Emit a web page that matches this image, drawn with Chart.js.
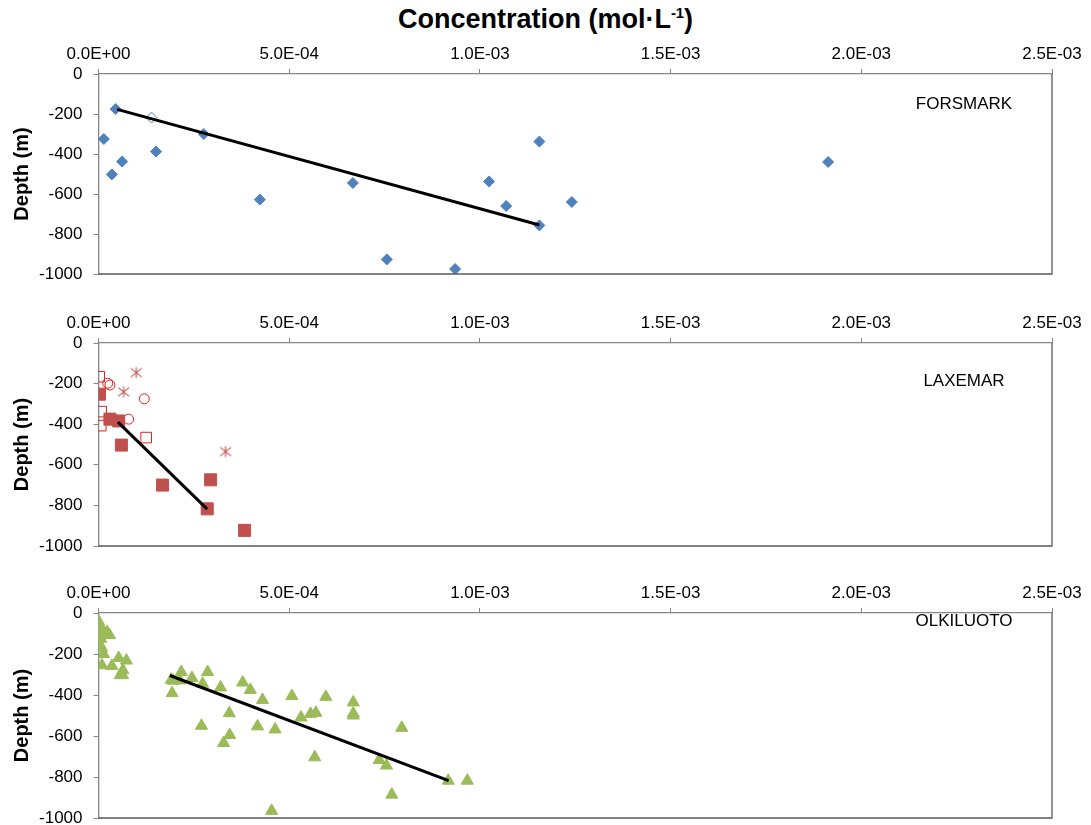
<!DOCTYPE html>
<html>
<head>
<meta charset="utf-8">
<script src="https://cdn.jsdelivr.net/npm/chart.js@4.4.1/dist/chart.umd.min.js"></script>
<style>
  html, body { margin: 0; padding: 0; background: #fff; overflow: hidden; width: 1091px; height: 825px; }
  #title { position: absolute; left: 0; top: -3px; width: 1091px; text-align: center;
           font: bold 27px 'Liberation Sans', Arial, sans-serif; color: #000; line-height: 32px; }
  #title sup { font-size: 0.55em; }
  .panel { position: absolute; left: 0; width: 1091px; }
</style>
</head>
<body>
<div id="title">Concentration (mol·L<sup>-1</sup>)</div>
<div class="panel" style="top:29px;height:267px"><canvas id="forsmark"></canvas></div>
<div class="panel" style="top:298px;height:270px"><canvas id="laxemar"></canvas></div>
<div class="panel" style="top:568px;height:272px"><canvas id="olkiluoto"></canvas></div>
<script>
// Concentration axis (mol/L) and depth axis (m)
const concTicks = [0, 5e-4, 1e-3, 1.5e-3, 2e-3, 2.5e-3];
const depthTicks = [0, -200, -400, -600, -800, -1000];

// Forsmark
const forsmarkConc  = [1.4e-5, 4.5e-5, 3.5e-5, 6.2e-5, 1.51e-4, 2.76e-4, 4.23e-4, 6.67e-4, 7.56e-4, 9.35e-4, 1.024e-3, 1.069e-3, 1.156e-3, 1.156e-3, 1.241e-3, 1.913e-3];
const forsmarkDepth = [-325, -175, -502, -438, -388, -300, -628, -545, -927, -975, -537, -660, -338, -757, -640, -440];
const forsmarkOpenConc  = [1.39e-4];
const forsmarkOpenDepth = [-218];
const forsmarkTrendConc  = [4.9e-5, 1.156e-3];
const forsmarkTrendDepth = [-177, -755];

// Laxemar
const laxemarFilledConc  = [2.6e-6, 3.0e-5, 5.3e-5, 6.0e-5, 1.68e-4, 2.94e-4, 2.85e-4, 3.83e-4];
const laxemarFilledDepth = [-252, -375, -384, -503, -700, -674, -817, -923];
const laxemarSquareConc  = [1.8e-6, 7e-6, 6e-6, 1.25e-4];
const laxemarSquareDepth = [-166, -338, -407, -466];
const laxemarCircleConc  = [2.4e-5, 3.0e-5, 1.2e-4, 7.9e-5];
const laxemarCircleDepth = [-198, -207, -275, -375];
const laxemarStarConc  = [9.9e-5, 6.6e-5, 3.33e-4];
const laxemarStarDepth = [-146, -241, -535];
const laxemarTrendConc  = [5.1e-5, 2.85e-4];
const laxemarTrendDepth = [-390, -818];

// Olkiluoto
const olkiluotoConc = [
  0.0, 2e-6, 3e-6, 1e-6, 2.2e-5, 2.9e-5, 4e-6, 6e-6, 2e-6, 8e-6, 1.3e-5, 9e-6, 3.5e-5, 5.3e-5, 7.3e-5, 6.4e-5, 5.7e-5, 6.3e-5,
  1.91e-4, 1.93e-4, 1.96e-4, 2.13e-4, 2.17e-4, 2.45e-4, 2.73e-4, 2.86e-4, 2.70e-4, 3.20e-4, 3.28e-4, 3.43e-4, 3.44e-4,
  3.78e-4, 3.98e-4, 4.17e-4, 4.30e-4, 4.54e-4, 4.63e-4, 5.07e-4, 5.31e-4, 5.56e-4, 5.70e-4, 5.67e-4, 5.96e-4,
  6.68e-4, 6.68e-4, 6.68e-4, 7.36e-4, 7.55e-4, 7.69e-4, 7.95e-4, 9.17e-4, 9.67e-4
];
const olkiluotoDepth = [
  -40, -55, -70, -85, -92, -108, -110, -125, -150, -170, -200, -255, -258, -219, -232, -279, -303, -303,
  -325, -391, -330, -329, -288, -317, -345, -288, -550, -363, -634, -489, -595,
  -339, -375, -553, -424, -965, -568, -405, -510, -492, -487, -704, -409,
  -436, -490, -500, -717, -744, -886, -560, -818, -818
];
const olkiluotoTrendConc  = [1.87e-4, 9.18e-4];
const olkiluotoTrendDepth = [-305, -818];

const FONT = "'Liberation Sans', Arial, sans-serif";
const AXIS_GREY = '#868686';

function pts(xs, ys) { return xs.map((x, i) => ({ x: x, y: ys[i] })); }

function sciLabel(v) {
  if (Math.abs(v) < 1e-12) return '0.0E+00';
  const parts = v.toExponential(1).split('e');
  const e = parseInt(parts[1], 10);
  return parts[0] + 'E' + (e < 0 ? '-' : '+') + String(Math.abs(e)).padStart(2, '0');
}

// six-armed asterisk marker
function asteriskMarker(color) {
  const s = 14, c = document.createElement('canvas');
  c.width = s; c.height = s;
  const g = c.getContext('2d');
  g.strokeStyle = color; g.lineWidth = 1.1;
  const cx = 7, cy = 7, r = 5.5;
  g.beginPath();
  g.moveTo(cx, cy - r); g.lineTo(cx, cy + r);
  g.moveTo(cx - r, cy - r * 0.8); g.lineTo(cx + r, cy + r * 0.8);
  g.moveTo(cx - r, cy + r * 0.8); g.lineTo(cx + r, cy - r * 0.8);
  g.stroke();
  return c;
}

// dark frame on the right and bottom of the plot area plus the site name
const panelDecor = {
  id: 'panelDecor',
  afterDraw(chart, args, opts) {
    const { ctx, chartArea: a } = chart;
    ctx.save();
    ctx.strokeStyle = '#595959';
    ctx.lineWidth = 1.3;
    ctx.beginPath();
    ctx.moveTo(a.right, a.top);
    ctx.lineTo(a.right, a.bottom);
    ctx.lineTo(a.left, a.bottom);
    ctx.stroke();
    ctx.fillStyle = '#000';
    ctx.font = '17px ' + FONT;
    ctx.textAlign = 'center';
    ctx.textBaseline = 'middle';
    ctx.fillText(opts.text, opts.cx, a.top + opts.dy);
    ctx.restore();
  }
};

function trendSet(xs, ys) {
  return { data: pts(xs, ys), showLine: true, borderColor: '#000', borderWidth: 3,
           pointRadius: 0, fill: false, order: 0 };
}

function makePanel(id, datasets, label, labelDy) {
  return new Chart(document.getElementById(id), {
    type: 'scatter',
    data: { datasets: datasets },
    plugins: [panelDecor],
    options: {
      responsive: true,
      maintainAspectRatio: false,
      animation: false,
      layout: { padding: { left: 0, right: 39, top: 0, bottom: 22 } },
      plugins: {
        legend: { display: false },
        tooltip: { enabled: false },
        panelDecor: { text: label, cx: 964, dy: labelDy }
      },
      scales: {
        x: {
          type: 'linear', position: 'top', min: 0, max: 2.5e-3,
          afterBuildTicks: s => { s.ticks = concTicks.map(v => ({ value: v })); },
          afterFit: s => { s.height = 45; },
          grid: { drawOnChartArea: false, drawTicks: true, tickLength: 5, color: AXIS_GREY },
          border: { color: AXIS_GREY, width: 1.3 },
          ticks: { color: '#000', font: { family: FONT, size: 17 }, padding: 4, maxRotation: 0,
                   callback: v => sciLabel(v) }
        },
        y: {
          type: 'linear', position: 'left', min: -1000, max: 0,
          afterBuildTicks: s => { s.ticks = depthTicks.map(v => ({ value: v })); },
          afterFit: s => { s.width = 98.5; },
          grid: { drawOnChartArea: false, drawTicks: true, tickLength: 5, color: AXIS_GREY },
          border: { color: AXIS_GREY, width: 1.3 },
          ticks: { color: '#000', font: { family: FONT, size: 17 }, padding: 11,
                   callback: v => String(v) },
          title: { display: true, text: 'Depth (m)', color: '#000',
                   font: { family: FONT, size: 20, weight: 'bold' }, padding: { top: 10, bottom: 0 } }
        }
      }
    }
  });
}

const BLUE = '#4F81BD', RED = '#C0504D', BRIGHT_RED = '#E0201C', GREEN = '#9BBB59';

makePanel('forsmark', [
  trendSet(forsmarkTrendConc, forsmarkTrendDepth),
  { data: pts(forsmarkConc, forsmarkDepth), pointStyle: 'rectRot', pointRadius: 5.5,
    backgroundColor: BLUE, borderColor: BLUE, borderWidth: 1, order: 1 },
  { data: pts(forsmarkOpenConc, forsmarkOpenDepth), pointStyle: 'rectRot', pointRadius: 5.5,
    backgroundColor: '#fff', borderColor: BLUE, borderWidth: 1, order: 1 }
], 'FORSMARK', 30);

makePanel('laxemar', [
  trendSet(laxemarTrendConc, laxemarTrendDepth),
  { data: pts(laxemarFilledConc, laxemarFilledDepth), pointStyle: 'rect', pointRadius: 8.5,
    backgroundColor: RED, borderColor: RED, borderWidth: 1, order: 1 },
  { data: pts(laxemarSquareConc, laxemarSquareDepth), pointStyle: 'rect', pointRadius: 7.5,
    backgroundColor: 'rgba(255,255,255,0)', borderColor: BRIGHT_RED, borderWidth: 1, order: 1 },
  { data: pts(laxemarCircleConc, laxemarCircleDepth), pointStyle: 'circle', pointRadius: 5,
    backgroundColor: 'rgba(255,255,255,0)', borderColor: BRIGHT_RED, borderWidth: 1, order: 1 },
  { data: pts(laxemarStarConc, laxemarStarDepth), pointStyle: asteriskMarker(RED), pointRadius: 6,
    backgroundColor: RED, borderColor: RED, order: 1 }
], 'LAXEMAR', 38);

makePanel('olkiluoto', [
  trendSet(olkiluotoTrendConc, olkiluotoTrendDepth),
  { data: pts(olkiluotoConc, olkiluotoDepth), pointStyle: 'triangle', pointRadius: 7,
    backgroundColor: GREEN, borderColor: GREEN, borderWidth: 1, order: 1 }
], 'OLKILUOTO', 8);
</script>
</body>
</html>
